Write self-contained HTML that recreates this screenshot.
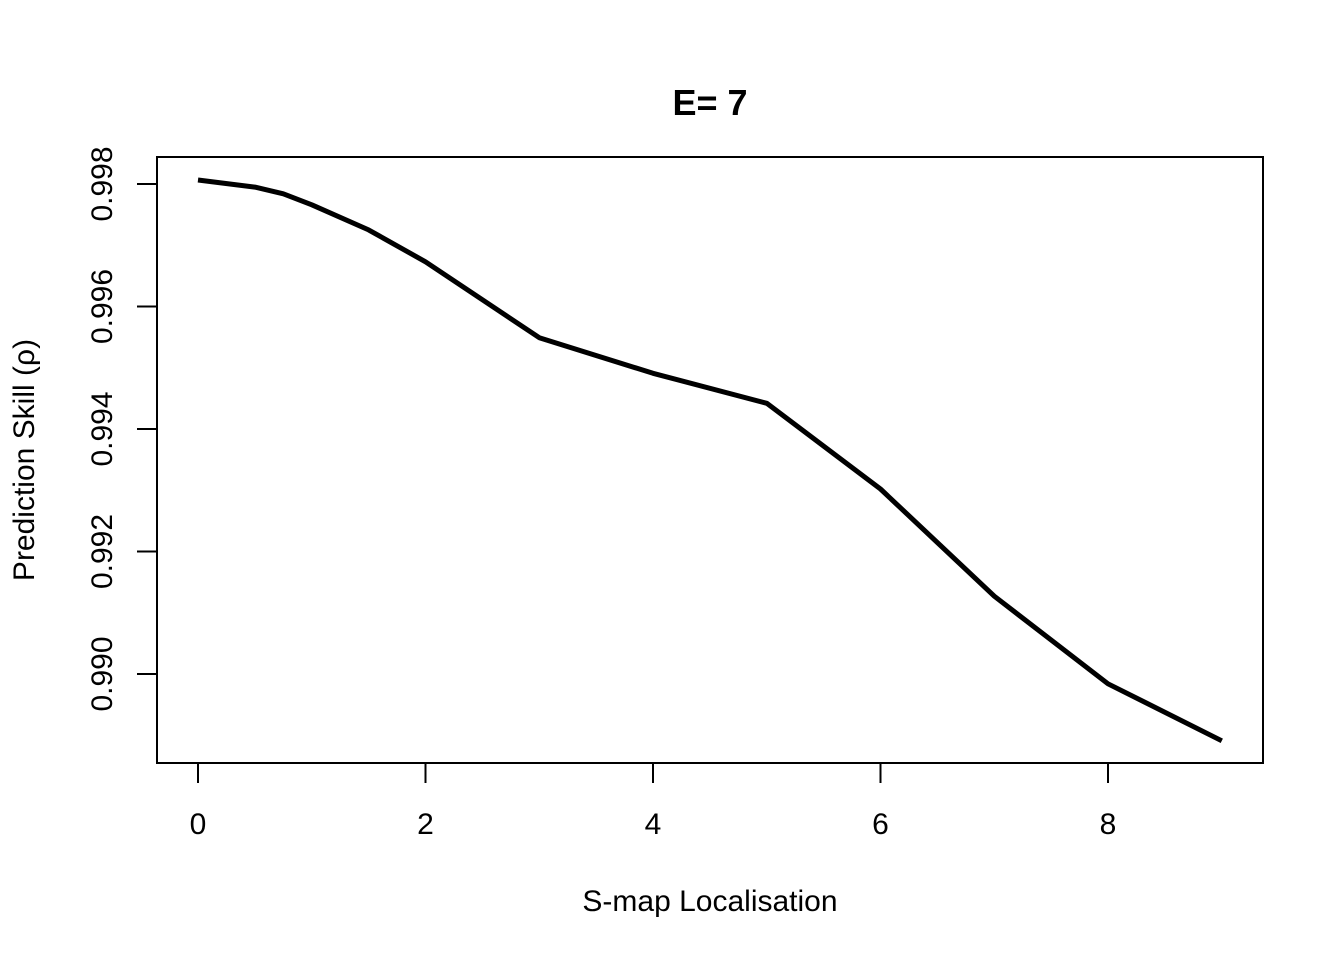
<!DOCTYPE html>
<html><head><meta charset="utf-8">
<style>
html,body{margin:0;padding:0;background:#fff;}
svg{display:block;font-family:"Liberation Sans",Arial,sans-serif;}
</style></head>
<body>
<svg id="chart" width="1344" height="960" viewBox="0 0 1344 960">
  <text x="710" y="115" text-anchor="middle" font-size="36" font-weight="bold">E= 7</text>
  <rect x="157" y="157" width="1106" height="606" fill="none" stroke="#000" stroke-width="2"/>
  <g id="xaxis"></g>
  <g id="yaxis"></g>
  <text x="710" y="911" text-anchor="middle" font-size="30">S-map Localisation</text>
  <text transform="translate(34,460) rotate(-90)" text-anchor="middle" font-size="30">Prediction Skill (ρ)</text>
  <g id="series"></g>
</svg>
<script>
const thetaValues = [0, 0.5, 0.75, 1, 1.5, 2, 3, 4, 5, 6, 7, 8, 9];
const rhoValues = [0.998065, 0.99795, 0.99784, 0.99766, 0.99725, 0.99673, 0.99549, 0.99491, 0.99442, 0.99302, 0.99127, 0.98984, 0.98891];
const xTicks = [0, 2, 4, 6, 8];
const yTicks = [0.990, 0.992, 0.994, 0.996, 0.998];
const yTickLabels = ["0.990", "0.992", "0.994", "0.996", "0.998"];

const NS = "http://www.w3.org/2000/svg";
function xs(v){ return 198 + v * 113.75; }
function ys(v){ return 184 + (0.998 - v) / 0.002 * 122.5; }
function mk(tag, attrs, parent){
  const e = document.createElementNS(NS, tag);
  for (const k in attrs) e.setAttribute(k, attrs[k]);
  parent.appendChild(e);
  return e;
}
const xg = document.getElementById('xaxis');
mk('line', {x1: xs(xTicks[0]), x2: xs(xTicks[xTicks.length-1]), y1: 763, y2: 763, stroke: '#000', 'stroke-width': 2}, xg);
xTicks.forEach(t => {
  const l = mk('line', {x1: xs(t), x2: xs(t), y1: 763, y2: 783, stroke: '#000', 'stroke-width': 2}, xg);
  
  
  const tx = mk('text', {x: xs(t), y: 834, 'text-anchor': 'middle', 'font-size': 30}, xg);
  tx.textContent = t;
  
  
});
const yg = document.getElementById('yaxis');
mk('line', {x1: 157, x2: 157, y1: ys(yTicks[0]), y2: ys(yTicks[yTicks.length-1]), stroke: '#000', 'stroke-width': 2}, yg);
yTicks.forEach((t, i) => {
  const l = mk('line', {x1: 137, x2: 157, y1: ys(t), y2: ys(t), stroke: '#000', 'stroke-width': 2}, yg);
  
  
  const tx = mk('text', {transform: 'translate(112,' + ys(t) + ') rotate(-90)', 'text-anchor': 'middle', 'font-size': 30}, yg);
  tx.textContent = yTickLabels[i];
  
  
});
const sg = document.getElementById('series');
const pts = thetaValues.map((t, i) => xs(t).toFixed(1) + ',' + ys(rhoValues[i]).toFixed(1)).join(' ');
const pl = mk('polyline', {points: pts, fill: 'none', stroke: '#000', 'stroke-width': 5, 'stroke-linejoin': 'round'}, sg);


</script>
</body></html>
